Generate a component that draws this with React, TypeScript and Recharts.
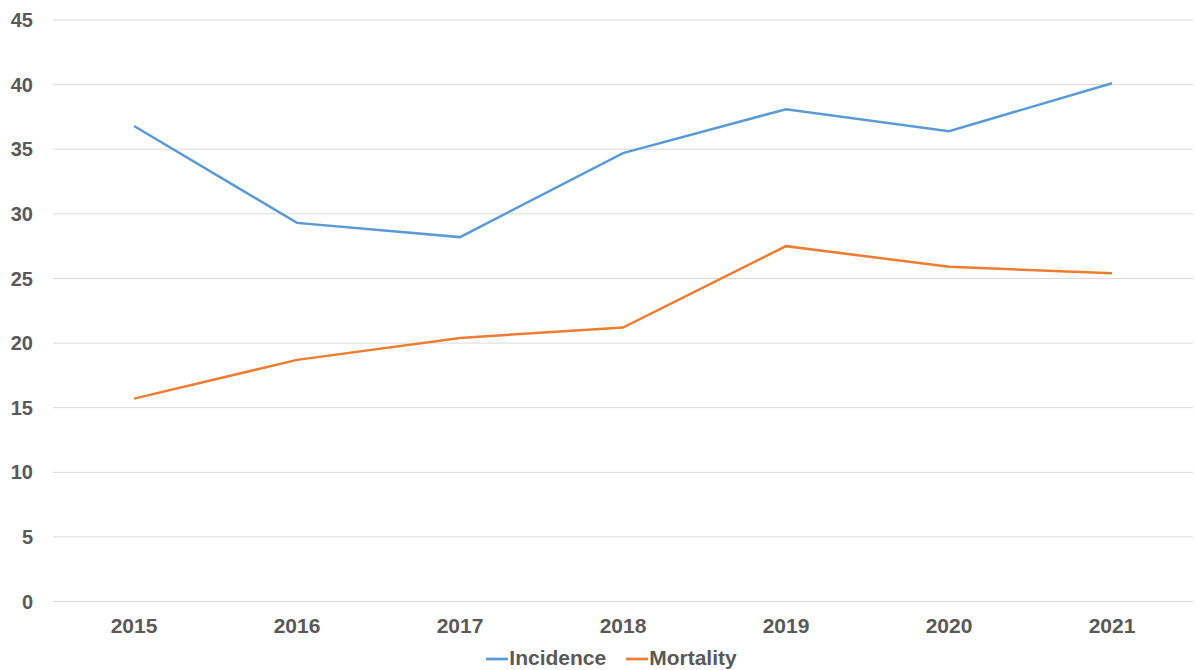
import React from 'react';
import { LineChart, Line, XAxis, YAxis, CartesianGrid, Legend } from 'recharts';

const years = ['2015', '2016', '2017', '2018', '2019', '2020', '2021'];
const incidence = [36.8, 29.3, 28.2, 34.7, 38.1, 36.4, 40.1];
const mortality = [15.7, 18.7, 20.4, 21.2, 27.5, 25.9, 25.4];
const yTicks = [0, 5, 10, 15, 20, 25, 30, 35, 40, 45];

const chartData = years.map((year, i) => ({
  year,
  Incidence: incidence[i],
  Mortality: mortality[i],
}));

const font = 'Liberation Sans, Arial, sans-serif';
const gray = '#595959';

export default function App() {
  return (
    <div style={{ position: 'absolute', top: 0, left: 0, width: 1195, height: 670, background: '#fff' }}>
      <LineChart
        width={1195}
        height={670}
        data={chartData}
        margin={{ top: 20, right: 2, left: 0, bottom: 0 }}
      >
        <CartesianGrid vertical={false} stroke="#D9D9D9" strokeWidth={1} />
        <XAxis
          dataKey="year"
          axisLine={{ stroke: '#D9D9D9' }}
          tickLine={false}
          tickSize={0}
          tickMargin={17}
          height={44}
          padding={{ left: 81, right: 81 }}
          tick={{ fill: gray, fontSize: 21, fontWeight: 700, fontFamily: font }}
          interval={0}
        />
        <YAxis
          domain={[0, 45]}
          ticks={yTicks}
          width={53}
          axisLine={false}
          tickLine={false}
          tickSize={0}
          tickMargin={20}
          tick={{ fill: gray, fontSize: 20, fontWeight: 700, fontFamily: font }}
          interval={0}
        />
        <Legend
          verticalAlign="bottom"
          align="center"
          iconType="plainline"
          iconSize={22}
          wrapperStyle={{ fontFamily: font, fontWeight: 700, fontSize: 21, color: gray, paddingLeft: 25 }}
          formatter={(value) => (
            <span style={{ color: gray, marginLeft: -3, marginRight: 10 }}>{value}</span>
          )}
        />
        <Line
          type="linear"
          dataKey="Incidence"
          stroke="#5B9BD5"
          strokeWidth={2.5}
          dot={false}
          isAnimationActive={false}
        />
        <Line
          type="linear"
          dataKey="Mortality"
          stroke="#ED7D31"
          strokeWidth={2.5}
          dot={false}
          isAnimationActive={false}
        />
      </LineChart>
    </div>
  );
}
